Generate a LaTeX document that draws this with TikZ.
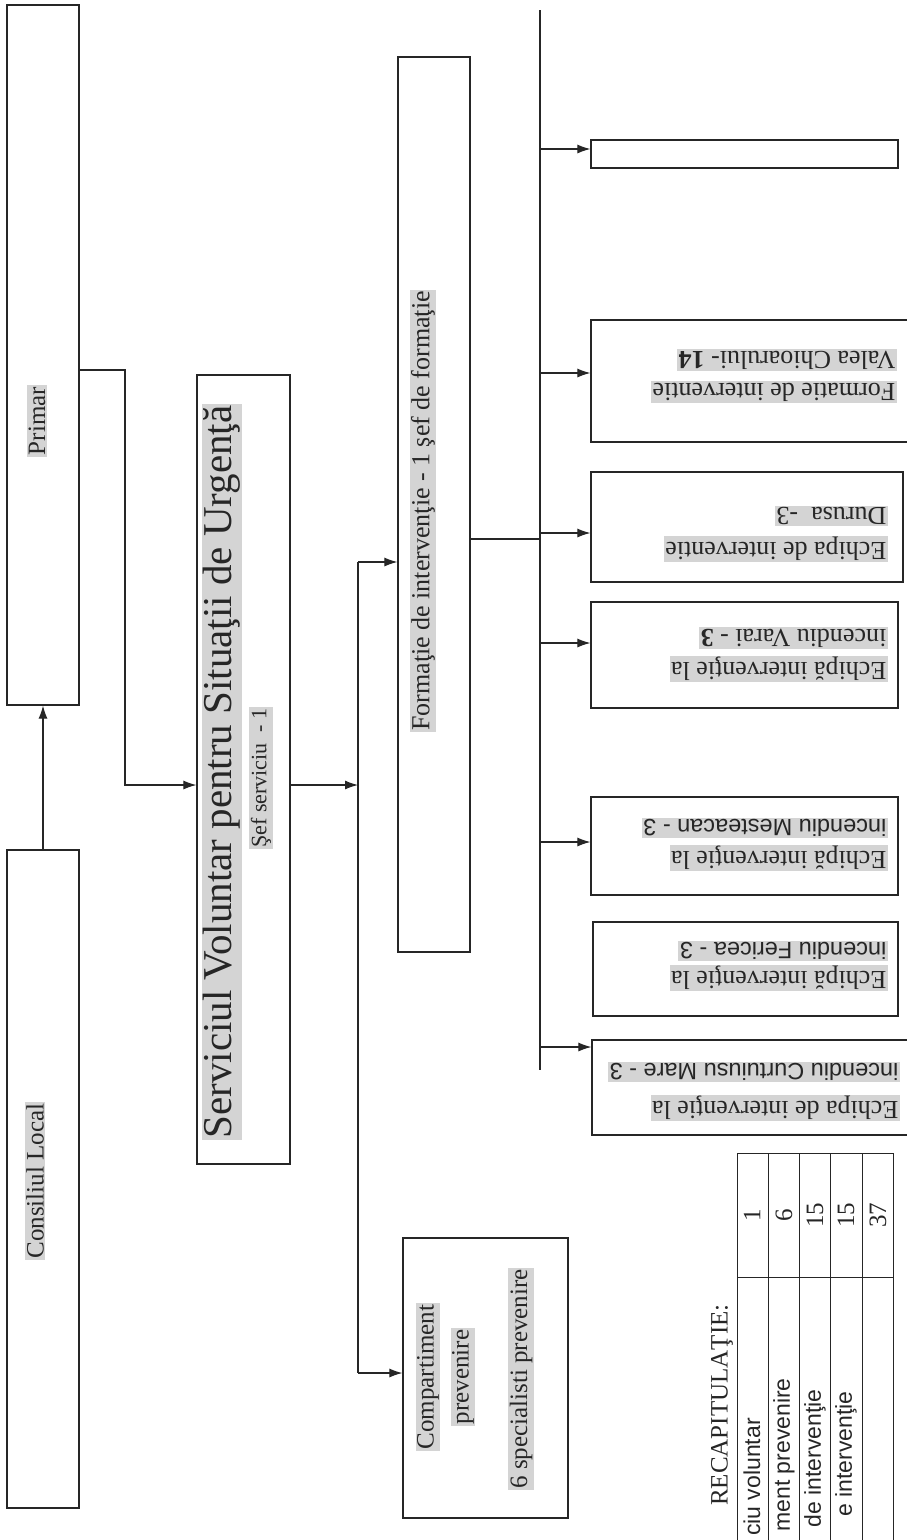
\documentclass[tikz,border=0pt]{standalone}
\usepackage{fontspec}
\setmainfont{Liberation Serif}
\newfontfamily\arialf{Liberation Sans}
\usetikzlibrary{arrows.meta}
\definecolor{ink}{HTML}{262626}
\definecolor{hlgray}{HTML}{D4D4D4}
\tikzset{
  box/.style={draw=ink, line width=1.2pt, inner sep=0pt},
  conn/.style={draw=ink, line width=1.1pt},
  arr/.style={conn, -{Latex[length=13pt,width=9pt]}},
  hl/.style={fill=hlgray, inner sep=1.5pt, text=ink},
  plain/.style={inner sep=1pt, text=ink},
  up/.style={rotate=90},
  flip/.style={rotate=180, anchor=west},
  fa/.style={font=\fontsize{25}{30}\selectfont},
  fb/.style={font=\fontsize{26}{30}\selectfont},
  fs/.style={font=\arialf\fontsize{23.5}{28}\selectfont},
  ft/.style={font=\arialf\fontsize{23}{28}\selectfont},
}
\begin{document}
\begin{tikzpicture}[x=1pt,y=-1pt]
\useasboundingbox (0,0) rectangle (906,1540);
% ---------- boxes
\node[box, minimum width=72pt, minimum height=700pt] (primar) at (43,355) {};
\node[box, minimum width=72pt, minimum height=658pt] (consiliu) at (43,1179) {};
\node[box, minimum width=93pt, minimum height=789pt] (svsu) at (243.5,769.5) {};
\node[box, minimum width=72pt, minimum height=895pt] (formatie) at (434,504.5) {};
\node[box, minimum width=165pt, minimum height=280pt] (compart) at (485.5,1378) {};
\node[box, minimum width=307pt, minimum height=28pt] (gol) at (744.5,154) {};
\node[box, minimum width=324pt, minimum height=122pt] (valea) at (753,381) {};
\node[box, minimum width=312pt, minimum height=110pt] (durusa) at (747,527) {};
\node[box, minimum width=307pt, minimum height=106pt] (varai) at (744.5,655) {};
\node[box, minimum width=307pt, minimum height=98pt] (mest) at (744.5,846) {};
\node[box, minimum width=305pt, minimum height=94pt] (fericea) at (745.5,969) {};
\node[box, minimum width=323pt, minimum height=95pt] (curt) at (753.5,1087.5) {};
% ---------- texts (rotated)
\node[hl, up, fa] (tprimar) at (37,421) {Primar};
\node[hl, up, fa] (tcons) at (35,1181) {Consiliul Local};
\node[hl, up, font=\fontsize{41}{46}\selectfont] (tsvsu) at (222,772) {Serviciul Voluntar pentru Situaţii de Urgenţă};
\node[hl, up, font=\fontsize{22}{26}\selectfont] (tsef) at (261,778) {Şef serviciu\ \ - 1};
\node[hl, up, fb] (tform) at (423,511) {Formaţie de intervenţie - 1 şef de formaţie};
\node[hl, up, fa] (tcomp1) at (428,1377) {Compartiment};
\node[hl, up, fa] (tcomp2) at (463,1377) {prevenire};
\node[hl, up, fa] (tcomp3) at (521,1379) {6 specialisti prevenire};
% ---------- team texts (upside down)
\node[hl, flip, fb] (tv1) at (897,392) {Formatie de interventie};
\node[hl, flip, fb] (tv2) at (897,360) {Valea Chioarului- \textbf{14}};
\node[hl, flip, fb] (td1) at (888,549) {Echipa de interventie};
\node[hl, flip, fb] (td2) at (888,516) {Durusa\ \ -3};
\node[hl, flip, fb] (tva1) at (888,669) {Echipă intervenţie la};
\node[hl, flip, fb] (tva2) at (888,638) {incendiu Varai - \textbf{3}};
\node[hl, flip, fb] (tm1) at (888,858) {Echipă intervenţie la};
\node[hl, flip, fs] (tm2) at (888,828) {incendiu Mesteacan - 3};
\node[hl, flip, fb] (tf1) at (888,978) {Echipă intervenţie la};
\node[hl, flip, fs] (tf2) at (888,951) {incendiu Fericea - 3};
\node[hl, flip, fb] (tc1) at (900,1108) {Echipa de intervenţie la};
\node[hl, flip, fs] (tc2) at (900,1072) {incendiu Curtuiusu Mare - 3};
% ---------- connectors
\coordinate (p1) at (125,370);
\coordinate (r1) at (0,785);
\coordinate (r2) at (0,539);
\coordinate (b1top) at (358,562);
\coordinate (b1bot) at (358,1373);
\coordinate (b2top) at (540,10);
\coordinate (b2bot) at (540,1070);
\draw[arr] (consiliu.north) -- (primar.south);
\draw[arr] (primar.east |- p1) -- (p1) |- (svsu.west |- r1);
\draw[arr] (svsu.east |- r1) -- (b1top |- r1);
\draw[conn] (b1top) -- (b1bot);
\draw[arr] (b1top) -- (formatie.west |- b1top);
\draw[arr] (b1bot) -- (compart.west |- b1bot);
\draw[conn] (formatie.east |- r2) -- (b2top |- r2);
\draw[conn] (b2top) -- (b2bot);
\coordinate (a1) at (0,149);
\coordinate (a2) at (0,373);
\coordinate (a3) at (0,533);
\coordinate (a4) at (0,643);
\coordinate (a5) at (0,842);
\coordinate (a6) at (0,1047);
\draw[arr] (b2top |- a1) -- (gol.west |- a1);
\draw[arr] (b2top |- a2) -- (valea.west |- a2);
\draw[arr] (b2top |- a3) -- (durusa.west |- a3);
\draw[arr] (b2top |- a4) -- (varai.west |- a4);
\draw[arr] (b2top |- a5) -- (mest.west |- a5);
\draw[arr] (b2top |- a6) -- (curt.west |- a6);
% ---------- recap table
\draw[conn, line width=0.9pt] (737,1560) -- (737,1153) -- (893,1153) -- (893,1560);
\foreach \x in {768,799,830,862} \draw[conn, line width=0.9pt] (\x,1153) -- (\x,1560);
\draw[conn, line width=0.9pt] (737,1277) -- (893,1277);
\node[plain, up, fa] (trecap) at (722,1405) {RECAPITULAŢIE:};
\node[plain, up, fa] (n1) at (752,1215) {1};
\node[plain, up, fa] (n2) at (784,1215) {6};
\node[plain, up, fa] (n3) at (815,1215) {15};
\node[plain, up, fa] (n4) at (846,1215) {15};
\node[plain, up, fa] (n5) at (878,1215) {37};
\node[plain, up, ft, anchor=east] (l1) at (752,1417) {ciu voluntar};
\node[plain, up, ft, anchor=east] (l2) at (784,1377) {ment prevenire};
\node[plain, up, ft, anchor=east] (l3) at (815,1388) {de intervenţie};
\node[plain, up, ft, anchor=east] (l4) at (846,1390) {e intervenţie};
\end{tikzpicture}
\end{document}
